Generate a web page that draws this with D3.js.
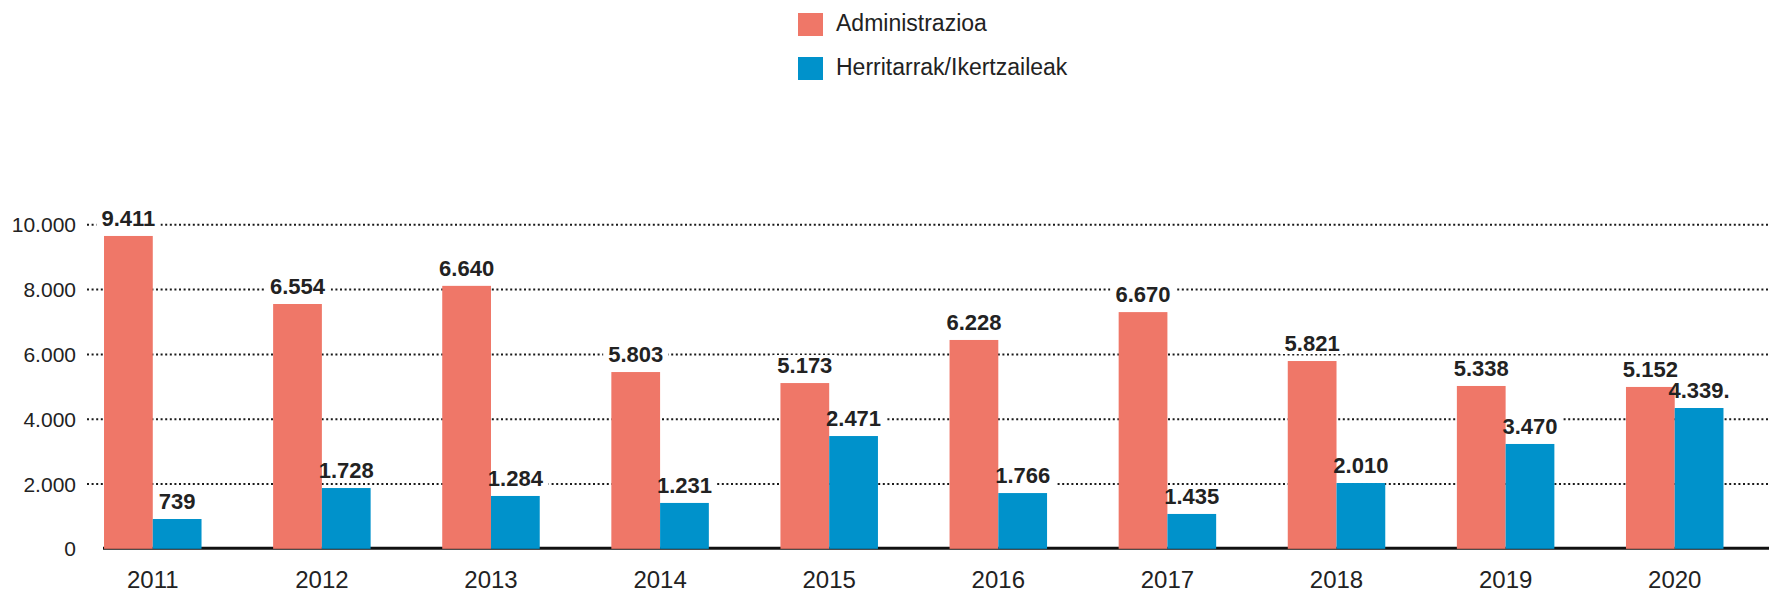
<!DOCTYPE html>
<html>
<head>
<meta charset="utf-8">
<script src="https://cdn.jsdelivr.net/npm/d3@7"></script>
<style>
  html, body { margin: 0; padding: 0; background: #fff; }
  svg { display: block; font-family: "Liberation Sans", Arial, sans-serif; }
</style>
</head>
<body>
<svg id="chart" width="1769" height="592"></svg>
<script>
// ---- data ----
const years = ["2011","2012","2013","2014","2015","2016","2017","2018","2019","2020"];
const seriesNames = ["Administrazioa", "Herritarrak/Ikertzaileak"];
// bar heights as drawn in the reference
const adminValues = [9640, 7540, 8100, 5440, 5100, 6430, 7290, 5780, 5010, 4980];
const citizenValues = [904, 1860, 1615, 1400, 3465, 1705, 1060, 2015, 3220, 4330];
// printed value labels (as written in the reference)
const adminLabels = ["9.411","6.554","6.640","5.803","5.173","6.228","6.670","5.821","5.338","5.152"];
const citizenLabels = ["739","1.728","1.284","1.231","2.471","1.766","1.435","2.010","3.470","4.339."];
const yTicks = [0, 2000, 4000, 6000, 8000, 10000];
const colors = ["#EF7768", "#0092CB"];

// ---- layout ----
const W = 1769, H = 592;
const svg = d3.select("#chart");
const locale = d3.formatLocale({decimal: ",", thousands: ".", grouping: [3], currency: ["", "€"]});
const fmt = locale.format(",d");

const y = d3.scaleLinear().domain([0, 10000]).range([548.3, 224.3]);
const x = d3.scaleBand().domain(years).range([70.2, 1757.3]).paddingInner(0.4234).paddingOuter(0.2);
const xs = d3.scaleBand().domain(seriesNames).range([0, x.bandwidth()]).padding(0);

// gridlines + y labels via axis
const gridLeft = 87;
const yAxis = d3.axisLeft(y).tickValues(yTicks).tickFormat(fmt)
  .tickSizeInner(-(W - gridLeft)).tickSizeOuter(0).tickPadding(11);
const gy = svg.append("g").attr("transform", `translate(${gridLeft},0)`).call(yAxis);
gy.select(".domain").remove();
gy.selectAll(".tick line")
  .attr("stroke", "#1a1a1a").attr("stroke-width", 2)
  .attr("stroke-dasharray", "2,2.6")
  .attr("opacity", d => d === 0 ? 0 : 1);
gy.selectAll(".tick text")
  .attr("fill", "#222").attr("font-size", 21).attr("dy", "0.36em");

// data rows
const rows = years.map((yr, i) => ({
  year: yr,
  items: [
    {s: seriesNames[0], v: adminValues[i], label: adminLabels[i], c: colors[0]},
    {s: seriesNames[1], v: citizenValues[i], label: citizenLabels[i], c: colors[1]}
  ]
}));

// baseline
svg.append("line")
  .attr("x1", x(years[0]) - 1).attr("x2", W)
  .attr("y1", y(0)).attr("y2", y(0))
  .attr("stroke", "#111").attr("stroke-width", 3);

const groups = svg.append("g").selectAll("g").data(rows).join("g")
  .attr("transform", d => `translate(${x(d.year)},0)`);

const labelFont = 22;
const labelOffset = 10;
const bgLayer = groups.append("g");
groups.selectAll("rect.bar").data(d => d.items).join("rect")
  .attr("class", "bar")
  .attr("x", d => xs(d.s)).attr("width", xs.bandwidth())
  .attr("y", d => y(d.v)).attr("height", d => y(0) - y(d.v) + 0.5)
  .attr("fill", d => d.c);

const texts = groups.selectAll("text.val").data(d => d.items).join("text")
  .attr("class", "val")
  .attr("x", d => xs(d.s) + xs.bandwidth() / 2)
  .attr("y", d => y(d.v) - labelOffset)
  .attr("text-anchor", "middle")
  .attr("font-size", labelFont).attr("font-weight", "bold")
  .attr("fill", "#222")
  .text(d => d.label);

texts.each(function(d) {
  const b = this.getBBox();
  d3.select(this.parentNode).select("g").append("rect")
    .attr("x", b.x - 5).attr("y", b.y + 2)
    .attr("width", b.width + 10).attr("height", b.height - 4)
    .attr("fill", "#fff");
});

// x axis labels
const xAxis = d3.axisBottom(x).tickSize(0).tickPadding(0);
const gx = svg.append("g").attr("transform", `translate(0,${y(0)})`).call(xAxis);
gx.select(".domain").remove();
gx.selectAll(".tick text")
  .attr("fill", "#222").attr("font-size", 24)
  .attr("dy", 0).attr("y", 40);

// legend
const legend = svg.append("g").attr("transform", "translate(798,13)");
const li = legend.selectAll("g").data(seriesNames).join("g")
  .attr("transform", (d, i) => `translate(0,${i * 44})`);
li.append("rect").attr("width", 25).attr("height", 23)
  .attr("fill", (d, i) => colors[i]);
li.append("text").attr("x", 38).attr("y", 18)
  .attr("font-size", 23).attr("fill", "#222").text(d => d);
</script>
</body>
</html>
